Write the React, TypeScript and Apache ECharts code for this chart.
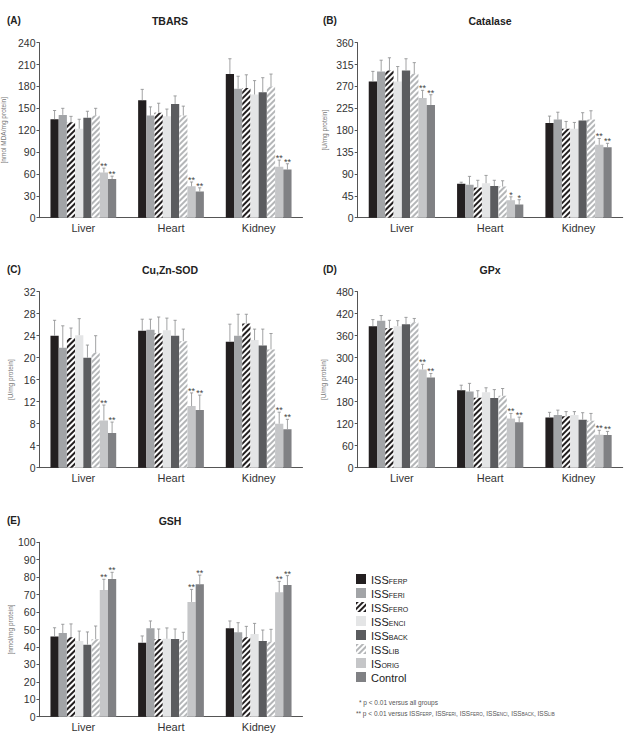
import React, { useEffect, useRef } from "react";
import * as echarts from "echarts";

const categories = ["Liver", "Heart", "Kidney"];
const seriesNames = ["ISSFERP", "ISSFERI", "ISSFERO", "ISSENCI", "ISSBACK", "ISSLIB", "ISORIG", "Control"];
const legendMain = ["ISS", "ISS", "ISS", "ISS", "ISS", "ISS", "IS", "Control"];
const legendSub = ["FERP", "FERI", "FERO", "ENCI", "BACK", "LIB", "ORIG", ""];

// rows: Liver, Heart, Kidney; columns: the 8 groups
const tbarsMeans = [
  [135, 141, 131, 122, 137, 140, 62, 53],
  [161, 140, 144, 139, 156, 140, 43, 36],
  [197, 177, 178, 169, 172, 180, 70, 66],
];
const tbarsErrors = [
  [12, 9, 8, 13, 9, 10, 6, 4],
  [15, 12, 13, 10, 11, 13, 6, 5],
  [21, 17, 18, 19, 20, 17, 9, 8],
];
const tbarsSig = [
  [0, 0, 0, 0, 0, 0, 2, 2],
  [0, 0, 0, 0, 0, 0, 2, 2],
  [0, 0, 0, 0, 0, 0, 2, 2],
];

const catalaseMeans = [
  [280, 301, 303, 280, 303, 296, 246, 232],
  [70, 68, 62, 71, 65, 64, 36, 27],
  [195, 202, 183, 183, 200, 202, 150, 145],
];
const catalaseErrors = [
  [21, 23, 26, 31, 24, 23, 16, 21],
  [3, 17, 15, 16, 12, 12, 7, 10],
  [14, 15, 15, 13, 16, 18, 13, 8],
];
const catalaseSig = [
  [0, 0, 0, 0, 0, 0, 2, 2],
  [0, 0, 0, 0, 0, 0, 1, 1],
  [0, 0, 0, 0, 0, 0, 2, 2],
];

const sodMeans = [
  [24, 21.8, 23.6, 24.1, 20, 20.9, 8.6, 6.3],
  [24.9, 25.1, 24.4, 25, 24, 23, 11.2, 10.5],
  [22.9, 24, 26.2, 23.2, 22.2, 21.5, 8, 7],
];
const sodErrors = [
  [2.8, 4, 1.8, 3, 2.3, 3.1, 2.8, 2],
  [2.1, 1.9, 3, 2.2, 2.8, 2.2, 2.4, 2.7],
  [3.2, 3.9, 1.7, 2, 3, 2.9, 2.1, 1.8],
];
const sodSig = [
  [0, 0, 0, 0, 0, 0, 2, 2],
  [0, 0, 0, 0, 0, 0, 2, 2],
  [0, 0, 0, 0, 0, 0, 2, 2],
];

const gpxMeans = [
  [386, 401, 380, 386, 391, 397, 268, 246],
  [211, 208, 191, 206, 190, 196, 134, 124],
  [137, 144, 140, 144, 131, 128, 90, 89],
];
const gpxErrors = [
  [18, 14, 22, 15, 19, 10, 14, 11],
  [14, 22, 19, 12, 23, 20, 14, 14],
  [14, 13, 13, 9, 19, 20, 12, 10],
];
const gpxSig = [
  [0, 0, 0, 0, 0, 0, 2, 2],
  [0, 0, 0, 0, 0, 0, 2, 2],
  [0, 0, 0, 0, 0, 0, 2, 2],
];

const gshMeans = [
  [46, 48, 45.5, 43.4, 41.3, 44.4, 72.6, 79],
  [42.4, 50.7, 44.6, 44.7, 44.6, 44, 65.8, 76],
  [50.7, 48.4, 45.5, 47.4, 43.4, 43, 71.3, 75.5],
];
const gshErrors = [
  [5, 5, 7.7, 5.7, 7.3, 7.6, 6.2, 3.8],
  [3.9, 4.2, 5.7, 6.2, 5.7, 4.4, 7.2, 5.2],
  [4.2, 5.5, 6.3, 6.1, 6.3, 7.1, 6.3, 5.4],
];
const gshSig = [
  [0, 0, 0, 0, 0, 0, 2, 2],
  [0, 0, 0, 0, 0, 0, 2, 2],
  [0, 0, 0, 0, 0, 0, 2, 2],
];

const FONT = "Liberation Sans";
const TXT = "#333";

const hatch = (c: string) => ({
  symbol: "rect",
  symbolSize: 1,
  color: c,
  backgroundColor: "#ffffff",
  dashArrayX: [1, 0],
  dashArrayY: [1.3, 1.7],
  rotation: -Math.PI / 4,
});

const styles: any[] = [
  { color: "#231f20" },
  { color: "#a2a4a7" },
  { color: "#ffffff", decal: hatch("#231f20") },
  { color: "#e4e5e6" },
  { color: "#5b5c5f" },
  { color: "#ffffff", decal: hatch("#b4b6b8") },
  { color: "#c5c6c8" },
  { color: "#808184" },
];

const panels = [
  { letter: "(A)", title: "TBARS", unit: "[nmol MDA/mg protein]", max: 240, interval: 30, means: tbarsMeans, errs: tbarsErrors, sig: tbarsSig, left: 39.5, top: 42.7, width: 263, height: 175, nameGap: 33 },
  { letter: "(B)", title: "Catalase", unit: "[U/mg protein]", max: 360, interval: 45, means: catalaseMeans, errs: catalaseErrors, sig: catalaseSig, left: 357.7, top: 42.7, width: 265, height: 175, nameGap: 30 },
  { letter: "(C)", title: "Cu,Zn-SOD", unit: "[U/mg protein]", max: 32, interval: 4, means: sodMeans, errs: sodErrors, sig: sodSig, left: 39.5, top: 291.7, width: 263, height: 176, nameGap: 26 },
  { letter: "(D)", title: "GPx", unit: "[U/mg protein]", max: 480, interval: 60, means: gpxMeans, errs: gpxErrors, sig: gpxSig, left: 357.7, top: 291.7, width: 265, height: 176, nameGap: 31 },
  { letter: "(E)", title: "GSH", unit: "[nmol/mg protein]", max: 100, interval: 10, means: gshMeans, errs: gshErrors, sig: gshSig, left: 39.5, top: 542.3, width: 263, height: 174.4, nameGap: 26 },
];

const GAP = 0.25;

function buildOption() {
  const grid: any[] = [];
  const xAxis: any[] = [];
  const yAxis: any[] = [];
  const series: any[] = [];
  const graphic: any[] = [];

  panels.forEach((p, gi) => {
    grid.push({ left: p.left, top: p.top, width: p.width, height: p.height, outerBoundsMode: "none", containLabel: false });
    xAxis.push({
      type: "category",
      gridIndex: gi,
      data: categories,
      axisTick: { show: false },
      axisLine: { lineStyle: { color: "#555", width: 1 } },
      axisLabel: { color: TXT, fontSize: 11, fontFamily: FONT, margin: 5 },
    });
    yAxis.push({
      type: "value",
      gridIndex: gi,
      min: 0,
      max: p.max,
      interval: p.interval,
      name: p.unit,
      nameLocation: "middle",
      nameGap: p.nameGap,
      nameTextStyle: { color: "#777", fontSize: 6.5, fontFamily: FONT },
      splitLine: { show: false },
      axisLine: { show: true, lineStyle: { color: "#555", width: 1 } },
      axisTick: { show: true, length: 3, lineStyle: { color: "#555" } },
      axisLabel: { color: TXT, fontSize: 10.5, fontFamily: FONT, margin: 4 },
    });
    seriesNames.forEach((name, si) => {
      series.push({
        type: "bar",
        name,
        xAxisIndex: gi,
        yAxisIndex: gi,
        barGap: 0,
        barCategoryGap: GAP * 100 + "%",
        itemStyle: styles[si],
        emphasis: { disabled: true },
        data: categories.map((_, ci) => p.means[ci][si]),
      });
    });
    const errData: number[][] = [];
    categories.forEach((_, ci) => {
      seriesNames.forEach((_, si) => {
        errData.push([ci, si, p.means[ci][si], p.errs[ci][si], p.sig[ci][si]]);
      });
    });
    series.push({
      type: "custom",
      xAxisIndex: gi,
      yAxisIndex: gi,
      z: 5,
      silent: true,
      encode: { x: 0, y: 2 },
      data: errData,
      renderItem: (params: any, api: any) => {
        const c = api.value(0);
        const s = api.value(1);
        const m = api.value(2);
        const e = api.value(3);
        const sg = api.value(4);
        const band = api.size([1, 0])[0];
        const gw = band * (1 - GAP);
        const bw = gw / 8;
        const base = api.coord([c, m]);
        const top = api.coord([c, m + e]);
        const x = base[0] - gw / 2 + bw * (s + 0.5);
        const children: any[] = [
          { type: "line", shape: { x1: x, y1: base[1], x2: x, y2: top[1] }, style: { stroke: "#8a8b8d", lineWidth: 0.8 } },
          { type: "line", shape: { x1: x - 1.6, y1: top[1], x2: x + 1.6, y2: top[1] }, style: { stroke: "#8a8b8d", lineWidth: 0.8 } },
        ];
        if (sg > 0) {
          children.push({
            type: "text",
            style: {
              text: sg === 2 ? "**" : "*",
              x: x,
              y: top[1] + 2.5,
              align: "center",
              verticalAlign: "bottom",
              fill: "#444",
              fontSize: 9,
              fontFamily: FONT,
            },
          });
        }
        return { type: "group", children };
      },
    });

    const isRight = p.left > 300;
    graphic.push({
      type: "text",
      left: isRight ? 323 : 7,
      top: p.top - 27,
      style: { text: p.letter, fontSize: 10, fontWeight: "bold", fill: "#222", fontFamily: FONT },
    });
    graphic.push({
      type: "text",
      x: isRight ? 490 : 170,
      y: p.top - 21.5,
      style: { text: p.title, fontSize: 10.5, fontWeight: "bold", fill: "#222", fontFamily: FONT, align: "center", verticalAlign: "middle" },
    });
  });

  const subList = ["FERP", "FERI", "FERO", "ENCI", "BACK", "LIB"];
  const richSmall: any = {
    t: { fontSize: 6.5, fill: "#555", fontFamily: FONT, lineHeight: 9, verticalAlign: "bottom" },
    s: { fontSize: 4.5, fill: "#555", fontFamily: FONT, lineHeight: 4, verticalAlign: "bottom" },
  };
  graphic.push({
    type: "text",
    left: 359,
    top: 699,
    style: { text: "{t|* p < 0.01 versus all groups}", rich: richSmall },
  });
  graphic.push({
    type: "text",
    left: 356,
    top: 710,
    style: {
      text: "{t|** p < 0.01 versus }" + subList.map((s) => "{t|ISS}{s|" + s + "}").join("{t|, }"),
      rich: richSmall,
    },
  });

  return {
    animation: false,
    textStyle: { fontFamily: FONT },
    grid,
    xAxis,
    yAxis,
    series,
    graphic,
    legend: {
      orient: "vertical",
      left: 356,
      top: 574,
      padding: 0,
      itemWidth: 10,
      itemHeight: 10,
      itemGap: 3,
      icon: "rect",
      selectedMode: false,
      data: seriesNames,
      formatter: (name: string) => {
        const i = seriesNames.indexOf(name);
        return "{m|" + legendMain[i] + "}" + (legendSub[i] ? "{s|" + legendSub[i] + "}" : "");
      },
      textStyle: {
        color: "#222",
        fontFamily: FONT,
        rich: {
          m: { fontSize: 11, lineHeight: 12, verticalAlign: "bottom", color: "#222" },
          s: { fontSize: 7, lineHeight: 5, verticalAlign: "bottom", color: "#222" },
        },
      },
    },
  };
}

export default function App() {
  const ref = useRef<HTMLDivElement>(null);
  useEffect(() => {
    if (!ref.current) return;
    const chart = echarts.init(ref.current, undefined, { renderer: "svg" });
    chart.setOption(buildOption() as any);
    return () => chart.dispose();
  }, []);
  return (
    <div
      ref={ref}
      style={{ position: "absolute", left: 0, top: 0, width: 627, height: 739, background: "#fff" }}
    />
  );
}
